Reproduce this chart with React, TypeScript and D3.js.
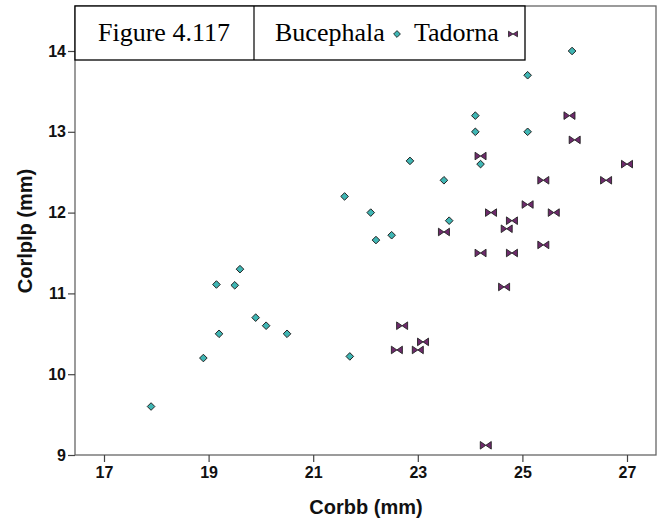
import { useEffect, useRef } from 'react';
import * as d3 from 'd3';

// Bucephala (diamonds)
const bucephalaX = [25.95, 25.1, 24.1, 24.1, 25.1, 22.85, 24.2, 23.5, 23.6, 21.6, 22.1, 22.2, 22.5, 19.6, 19.15, 19.5, 19.9, 20.1, 20.5, 19.2, 18.9, 21.7, 17.9];
const bucephalaY = [14.0, 13.7, 13.2, 13.0, 13.0, 12.64, 12.6, 12.4, 11.9, 12.2, 12.0, 11.66, 11.72, 11.3, 11.11, 11.1, 10.7, 10.6, 10.5, 10.5, 10.2, 10.22, 9.6];

// Tadorna (bowties)
const tadornaX = [25.9, 26.0, 24.2, 27.0, 25.4, 26.6, 25.1, 24.4, 25.6, 24.8, 24.7, 23.5, 25.4, 24.2, 24.8, 24.65, 22.7, 23.1, 22.6, 23.0, 24.3];
const tadornaY = [13.2, 12.9, 12.7, 12.6, 12.4, 12.4, 12.1, 12.0, 12.0, 11.9, 11.8, 11.76, 11.6, 11.5, 11.5, 11.08, 10.6, 10.4, 10.3, 10.3, 9.12];

const xTicks = [17, 19, 21, 23, 25, 27];
const yTicks = [9, 10, 11, 12, 13, 14];

const DIAMOND_FILL = '#3fb6b4';
const BOWTIE_FILL = '#6e2a6c';

function diamondPath(s: number) {
  return `M0,${-s}L${s},0L0,${s}L${-s},0Z`;
}

function bowtiePath(w: number, h: number) {
  return `M${-w},${-h}L0,0L${-w},${h}Z M${w},${-h}L0,0L${w},${h}Z`;
}

export default function App() {
  const svgRef = useRef<SVGSVGElement>(null);

  useEffect(() => {
    if (!svgRef.current) return;
    const svg = d3.select(svgRef.current);
    svg.selectAll('*').remove();

    const left = 75, right = 656, top = 6, bottom = 455;

    const x = d3.scaleLinear().domain([17, 27]).range([104, 627]);
    const y = d3.scaleLinear().domain([9, 14]).range([455, 51]);

    svg.append('rect')
      .attr('width', 669).attr('height', 521).attr('fill', '#fff');

    // frame
    svg.append('rect')
      .attr('x', left).attr('y', top)
      .attr('width', right - left).attr('height', bottom - top)
      .attr('fill', 'none').attr('stroke', '#666').attr('stroke-width', 1.3);

    const tickFont = 'Liberation Sans, Arial, sans-serif';

    // x axis
    const xa = svg.append('g')
      .attr('transform', `translate(0,${bottom})`)
      .call(d3.axisBottom(x).tickValues(xTicks).tickFormat(d3.format('d')).tickSize(7).tickSizeOuter(0).tickPadding(5));
    xa.select('.domain').remove();
    xa.selectAll('line').attr('stroke', '#444').attr('stroke-width', 1.2);
    xa.selectAll('text')
      .attr('font-family', tickFont).attr('font-size', 16).attr('font-weight', 'bold').attr('fill', '#111');

    // y axis
    const ya = svg.append('g')
      .attr('transform', `translate(${left},0)`)
      .call(d3.axisLeft(y).tickValues(yTicks).tickFormat(d3.format('d')).tickSize(7).tickSizeOuter(0).tickPadding(2));
    ya.select('.domain').remove();
    ya.selectAll('line').attr('stroke', '#444').attr('stroke-width', 1.2);
    ya.selectAll('text')
      .attr('font-family', tickFont).attr('font-size', 16).attr('font-weight', 'bold').attr('fill', '#111');

    // axis titles
    svg.append('text')
      .attr('x', 366).attr('y', 514)
      .attr('text-anchor', 'middle')
      .attr('font-family', tickFont).attr('font-size', 20).attr('font-weight', 'bold').attr('fill', '#111')
      .text('Corbb (mm)');

    svg.append('text')
      .attr('transform', 'translate(32,231) rotate(-90)')
      .attr('text-anchor', 'middle')
      .attr('font-family', tickFont).attr('font-size', 20).attr('font-weight', 'bold').attr('fill', '#111')
      .text('Corlplp (mm)');

    // points
    const bData = bucephalaX.map((v, i) => ({ x: v, y: bucephalaY[i] }));
    const tData = tadornaX.map((v, i) => ({ x: v, y: tadornaY[i] }));

    svg.append('g').selectAll('path')
      .data(tData)
      .enter()
      .append('path')
      .attr('transform', d => `translate(${x(d.x)},${y(d.y)})`)
      .attr('d', bowtiePath(5.5, 3.8))
      .attr('fill', BOWTIE_FILL)
      .attr('stroke', '#222')
      .attr('stroke-width', 0.9);

    svg.append('g').selectAll('path')
      .data(bData)
      .enter()
      .append('path')
      .attr('transform', d => `translate(${x(d.x)},${y(d.y)})`)
      .attr('d', diamondPath(3.8))
      .attr('fill', DIAMOND_FILL)
      .attr('stroke', '#222')
      .attr('stroke-width', 1);

    // legend box
    const lg = svg.append('g');
    lg.append('rect')
      .attr('x', left).attr('y', top)
      .attr('width', 525 - left).attr('height', 60 - top)
      .attr('fill', '#fff').attr('stroke', '#000').attr('stroke-width', 1.3);
    lg.append('line')
      .attr('x1', 254).attr('x2', 254).attr('y1', top).attr('y2', 60)
      .attr('stroke', '#000').attr('stroke-width', 1.2);

    const serif = 'Liberation Serif, Times New Roman, serif';
    lg.append('text')
      .attr('x', 98).attr('y', 41)
      .attr('font-family', serif).attr('font-size', 26).attr('fill', '#000')
      .text('Figure 4.117');
    lg.append('text')
      .attr('x', 275).attr('y', 41)
      .attr('font-family', serif).attr('font-size', 26).attr('fill', '#000')
      .text('Bucephala');
    lg.append('path')
      .attr('transform', 'translate(397,34)')
      .attr('d', diamondPath(3.4))
      .attr('fill', DIAMOND_FILL).attr('stroke', '#222').attr('stroke-width', 0.9);
    lg.append('text')
      .attr('x', 414).attr('y', 41)
      .attr('font-family', serif).attr('font-size', 26).attr('fill', '#000')
      .text('Tadorna');
    lg.append('path')
      .attr('transform', 'translate(513,34)')
      .attr('d', bowtiePath(4.5, 2.8))
      .attr('fill', BOWTIE_FILL).attr('stroke', '#222').attr('stroke-width', 0.8);
  }, []);

  return (
    <svg
      ref={svgRef}
      width={669}
      height={521}
      style={{ position: 'absolute', left: 0, top: 0 }}
    />
  );
}
